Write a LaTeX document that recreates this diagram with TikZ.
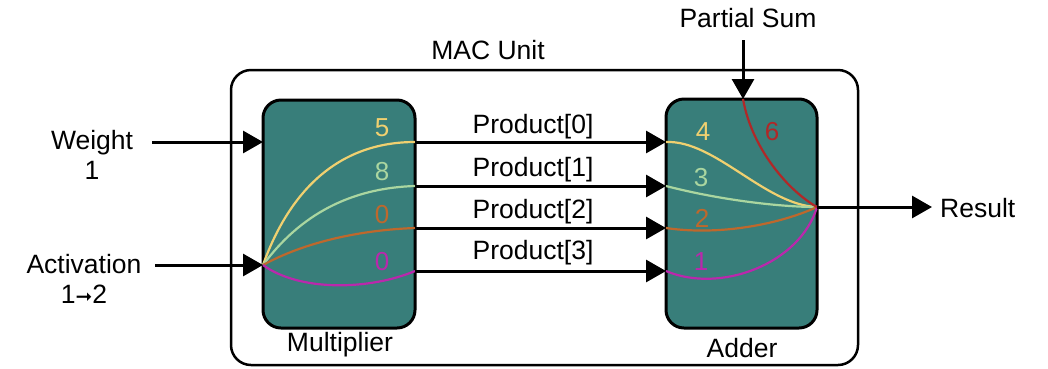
\documentclass[tikz,border=0pt]{standalone}
\usepackage{fontspec}
\setmainfont{Liberation Sans}
\newfontfamily\dejavu{DejaVu Sans}
\usetikzlibrary{arrows.meta}
\definecolor{teal1}{RGB}{56,126,122}
\definecolor{cyel}{RGB}{240,208,112}
\definecolor{cgrn}{RGB}{170,214,160}
\definecolor{corg}{RGB}{190,104,44}
\definecolor{cmag}{RGB}{186,40,172}
\definecolor{cred}{RGB}{176,40,40}
\tikzset{
  txt/.style={font=\fontsize{26.5}{30}\selectfont, inner sep=0pt, align=center},
  unit/.style={draw=black, line width=3pt, fill=teal1, rounded corners=18pt},
  wire/.style={line width=3pt, -{Triangle[length=20pt,width=22pt]}},
  curve/.style={line width=2.2pt},
  num/.style={font=\fontsize{26}{30}\selectfont, inner sep=0pt},
}
\begin{document}
\begin{tikzpicture}[x=1pt,y=-1pt]
\useasboundingbox (0,0) rectangle (1048,368);
% outer
\draw[line width=2.5pt, rounded corners=20pt] (231,70) rectangle (858,365);
\node[txt] (mac) at (488,50) {MAC Unit};
% boxes
\node[unit, minimum width=152pt, minimum height=228pt, inner sep=0pt] (mul) at (339,214) {};
\node[unit, minimum width=151pt, minimum height=229pt, inner sep=0pt] (add) at (741.5,213.5) {};
\node[txt] (mullab) at (340,345) {Multiplier};
\node[txt] (addlab) at (742,348) {Adder};
% ports
\coordinate (min) at (263,265);
\coordinate (win) at (263,142);
\coordinate (m0) at (415,142);
\coordinate (m1) at (415,186);
\coordinate (m2) at (415,228);
\coordinate (m3) at (415,271);
\coordinate (a0) at (666,142);
\coordinate (a1) at (666,186);
\coordinate (a2) at (666,228);
\coordinate (a3) at (666,271);
\coordinate (aout) at (817,207);
\coordinate (psin) at (743,99);
% multiplier curves
\draw[curve, cyel] (min) .. controls (288,195) and (335,142) .. (m0);
\draw[curve, cgrn] (min) .. controls (300,215) and (350,188) .. (m1);
\draw[curve, corg] (min) .. controls (305,242) and (360,230) .. (m2);
\draw[curve, cmag] (min) .. controls (300,292) and (370,290) .. (m3);
\node[num, text=cyel] (n5) at (382,128) {5};
\node[num, text=cgrn] (n8) at (382,172) {8};
\node[num, text=corg] (n0a) at (382,215) {0};
\node[num, text=cmag] (n0b) at (382,262) {0};
% adder curves
\draw[curve, cyel] (a0) .. controls (715,140) and (765,205) .. (aout);
\draw[curve, cgrn] (a1) .. controls (720,200) and (780,207) .. (aout);
\draw[curve, corg] (a2) .. controls (720,236) and (780,224) .. (aout);
\draw[curve, cmag] (a3) .. controls (720,294) and (800,264) .. (aout);
\draw[curve, cred] (psin) .. controls (752,150) and (790,192) .. (aout);
\node[num, text=cyel] (n4) at (703,132) {4};
\node[num, text=cgrn] (n3) at (701,178) {3};
\node[num, text=corg] (n2) at (702,218) {2};
\node[num, text=cmag] (n1) at (701,262) {1};
\node[num, text=cred] (n6) at (772,132) {6};
% inputs
\node[txt] (w) at (92,155) {Weight\\1};
\node[txt] (act) at (84,279) {Activation\\1{\dejavu\fontsize{20}{20}\selectfont ➞}2};
\coordinate (wst) at (152,142);
\coordinate (ast) at (155,265);
\draw[wire] (wst) -- (win);
\draw[wire] (ast) -- (min);
% products
\foreach \i/\y in {0/127,1/170,2/212,3/253}{
  \node[txt] (p\i) at (533,\y) {Product[\i]};
}
\draw[wire] (m0) -- (a0);
\draw[wire] (m1) -- (a1);
\draw[wire] (m2) -- (a2);
\draw[wire] (m3) -- (a3);
% partial sum
\node[txt] (ps) at (748,18) {Partial Sum};
\coordinate (pst) at (743,40);
\draw[wire] (pst) -- (psin);
% result
\coordinate (rend) at (932,207);
\draw[wire] (aout) -- (rend);
\node[txt, anchor=west] (res) at (940,208) {Result};
\end{tikzpicture}
\end{document}
